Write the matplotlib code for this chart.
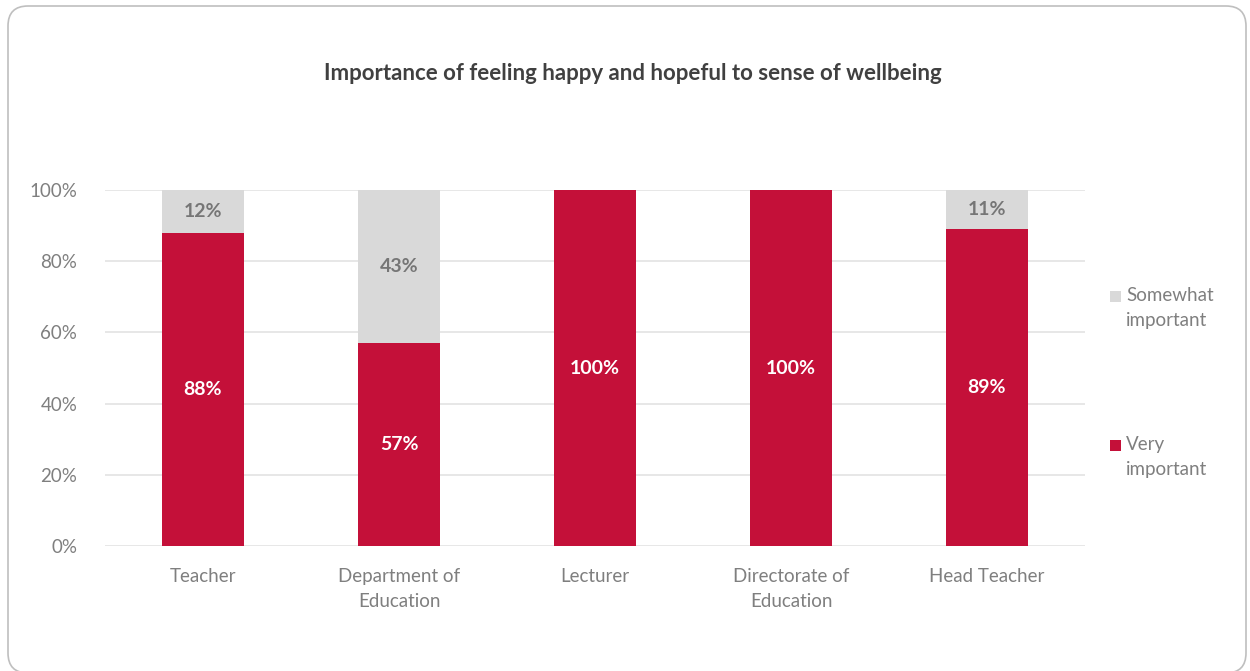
import matplotlib.pyplot as plt
from matplotlib.patches import FancyBboxPatch, Rectangle
from matplotlib.transforms import IdentityTransform

roles = ["Teacher", "Department of\nEducation", "Lecturer", "Directorate of\nEducation", "Head Teacher"]
very_important = [88, 57, 100, 100, 89]
somewhat_important = [12, 43, 0, 0, 11]
yticks = [0, 20, 40, 60, 80, 100]

RED = "#C41039"
GREY = "#D9D9D9"
TEXT = "#7F7F7F"

plt.rcParams['font.family'] = ['Lato', 'DejaVu Sans']

fig = plt.figure(figsize=(12.5, 6.71), dpi=100)

# rounded frame around the chart (pixel coordinates)
frame = FancyBboxPatch((8, -2), 1238, 667,
                       boxstyle="round,pad=0,rounding_size=20",
                       transform=IdentityTransform(), facecolor="none",
                       edgecolor="#BFBFBF", linewidth=1.2, zorder=-1)
fig.patches.append(frame)

ax = fig.add_axes([0.084, 0.1863, 0.784, 0.5305])
ax.set_facecolor("none")

x = range(len(roles))
ax.bar(x, very_important, width=0.42, color=RED, zorder=3)
ax.bar(x, somewhat_important, width=0.42, bottom=very_important, color=GREY, zorder=3)

for i in x:
    v = very_important[i]
    s = somewhat_important[i]
    ax.text(i, v / 2, f"{v}%", ha="center", va="center", color="white",
            fontsize=14, fontweight="bold", zorder=4)
    if s > 0:
        ax.text(i, v + s / 2, f"{s}%", ha="center", va="center", color="#767676",
                fontsize=14, fontweight="bold", zorder=4)

ax.set_xlim(-0.5, 4.5)
ax.set_ylim(0, 100)
ax.set_yticks(yticks)
ax.set_yticklabels([f"{t}%" for t in yticks])
ax.set_xticks(list(x))
ax.set_xticklabels(roles, linespacing=1.55)
ax.yaxis.grid(True, color="#E3E3E3", linewidth=1.2, zorder=0)
ax.set_axisbelow(True)
for side in ["top", "right", "left", "bottom"]:
    ax.spines[side].set_visible(False)
ax.tick_params(axis="both", length=0, labelsize=13.5, labelcolor=TEXT)
ax.tick_params(axis="x", pad=16)
ax.tick_params(axis="y", pad=20)

fig.text(0.506, 0.891, "Importance of feeling happy and hopeful to sense of wellbeing",
         ha="center", va="center", fontsize=16, fontweight="bold", color="#404040")

# legend
for label, color, ypix in [("Somewhat\nimportant", GREY, 296), ("Very\nimportant", RED, 445)]:
    yf = 1 - ypix / 671
    fig.patches.append(Rectangle((1110 / 1250, yf - 5.5 / 671), 11 / 1250, 11 / 671,
                                 transform=fig.transFigure, facecolor=color, edgecolor="none"))
    fig.text(1126 / 1250, yf + 9 / 671, label, ha="left", va="top", fontsize=13.5,
             color=TEXT, linespacing=1.55)

fig.savefig("out.png", dpi=100)
